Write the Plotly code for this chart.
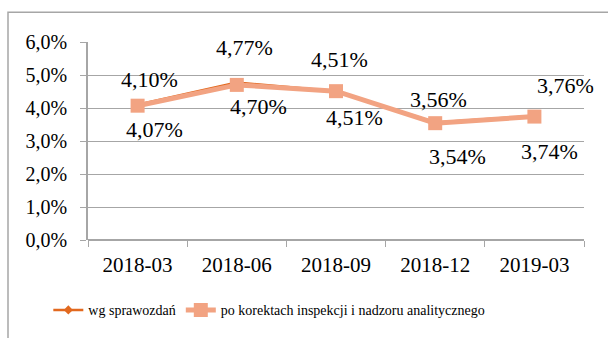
import plotly.graph_objects as go

# Quarterly values (percent)
periods = ["2018-03", "2018-06", "2018-09", "2018-12", "2019-03"]
reported = [4.10, 4.77, 4.51, 3.56, 3.76]
corrected = [4.07, 4.70, 4.51, 3.54, 3.74]
names = ["wg sprawozdań", "po korektach inspekcji i nadzoru analitycznego"]
y_ticks = [0, 1, 2, 3, 4, 5, 6]
y_tick_text = ["0,0%", "1,0%", "2,0%", "3,0%", "4,0%", "5,0%", "6,0%"]

# Pixel offsets of the value labels (dx, dy), one pair per point
reported_offsets = [(12, 25), (8, 35), (3, 32), (3, 23), (31, 30)]
corrected_offsets = [(17, -24), (22, -22), (18, -26), (22, -33), (15, -35)]

FONT = "Liberation Serif"
C_DARK = "#E2691F"
C_LIGHT = "#F2A382"

fig = go.Figure()
fig.add_trace(go.Scatter(
    x=periods, y=reported, name=names[0], mode="lines+markers",
    line=dict(color=C_DARK, width=2.5),
    marker=dict(symbol="diamond", size=7, color=C_DARK),
))
fig.add_trace(go.Scatter(
    x=periods, y=corrected, name=names[1], mode="lines+markers",
    line=dict(color=C_LIGHT, width=5),
    marker=dict(symbol="square", size=14, color=C_LIGHT),
))

def fmt(v):
    return f"{v:.2f}".replace(".", ",") + "%"

annotations = []
for vals, offs in ((reported, reported_offsets), (corrected, corrected_offsets)):
    for p, v, (dx, dy) in zip(periods, vals, offs):
        annotations.append(dict(
            x=p, y=v, xref="x", yref="y", text=fmt(v), showarrow=False,
            xshift=dx, yshift=dy, font=dict(family=FONT, size=22, color="#000"),
        ))

fig.update_layout(
    width=608, height=338,
    margin=dict(l=88, r=24, t=42, b=96),
    paper_bgcolor="white", plot_bgcolor="white",
    font=dict(family=FONT, size=20, color="#000"),
    showlegend=True,
    legend=dict(
        orientation="h", x=-0.08, xanchor="left", y=-0.355, yanchor="middle",
        font=dict(family=FONT, size=14, color="#000"),
        bgcolor="rgba(0,0,0,0)", itemwidth=30,
    ),
    annotations=annotations,
    shapes=[dict(
        type="rect", xref="paper", yref="paper",
        x0=(8 - 88) / 496, x1=(612 - 88) / 496,
        y0=(242 - 345) / 200, y1=(242 - 12) / 200,
        line=dict(color="#A6A6A6", width=1.5), fillcolor="rgba(0,0,0,0)", layer="below",
    )],
)
fig.update_xaxes(
    type="category", range=[-0.5, len(periods) - 0.5],
    showgrid=False, showline=False,
    ticks="outside", tickson="boundaries", ticklen=6, tickcolor="#A6A6A6",
    ticklabelstandoff=10,
    tickfont=dict(family=FONT, size=21), fixedrange=True,
)
fig.update_yaxes(
    range=[0, 6], tickvals=y_ticks, ticktext=y_tick_text,
    showgrid=True, gridcolor="#A6A6A6", gridwidth=1,
    showline=True, linecolor="#A6A6A6", linewidth=1.5,
    ticks="outside", ticklen=6, tickcolor="#A6A6A6",
    ticklabelstandoff=9,
    zeroline=True, zerolinecolor="#A6A6A6", zerolinewidth=1.5,
    tickfont=dict(family=FONT, size=20), fixedrange=True,
)

fig.write_html("out.html")
